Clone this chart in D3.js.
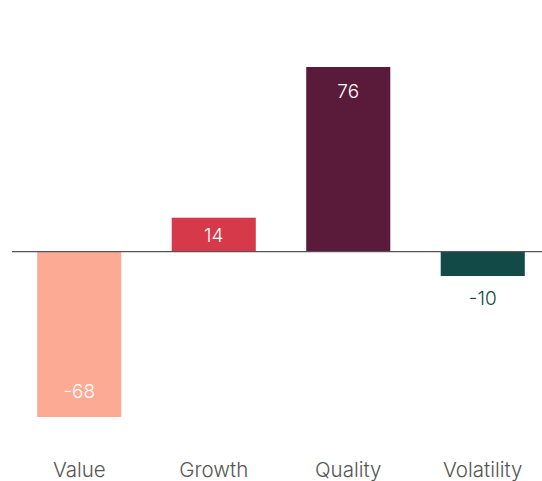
<!DOCTYPE html>
<html><head><meta charset="utf-8">
<script src="https://cdn.jsdelivr.net/npm/d3@7"></script>
<style>body{margin:0;background:#fff}svg{display:block}</style>
</head><body>
<script>
const categories = ["Value", "Growth", "Quality", "Volatility"];
const values = [-68, 14, 76, -10];
const colors = ["#FCAA94", "#D63A4A", "#5A1A3A", "#124A48"];

const W = 542, H = 481;
const svg = d3.select("body").append("svg").attr("width", W).attr("height", H);
const font = "Inter, 'Noto Sans', sans-serif";

const x = d3.scaleBand().domain(categories).range([12, 550]).paddingInner(0.375).paddingOuter(0.1875);
const y = d3.scaleLinear().domain([-68, 76]).range([417, 67]);

const data = categories.map((c, i) => ({c, v: values[i], color: colors[i]}));

svg.selectAll("rect.bar").data(data).enter().append("rect")
  .attr("class", "bar")
  .attr("x", d => x(d.c))
  .attr("width", x.bandwidth())
  .attr("y", d => Math.min(y(d.v), y(0)))
  .attr("height", d => Math.abs(y(d.v) - y(0)))
  .attr("fill", d => d.color);

svg.append("line")
  .attr("x1", 12).attr("x2", W)
  .attr("y1", y(0)).attr("y2", y(0))
  .attr("stroke", "#555").attr("stroke-width", 1.2);

svg.selectAll("text.val").data(data).enter().append("text")
  .attr("class", "val")
  .attr("x", d => x(d.c) + x.bandwidth() / 2)
  .attr("y", d => {
    const h = Math.abs(y(d.v) - y(0));
    if (h < 30) return d.v < 0 ? y(d.v) + 29 : y(d.v) - 8;
    return d.v >= 0 ? (h < 40 ? y(d.v) + 24 : y(d.v) + 31) : y(d.v) - 19;
  })
  .attr("text-anchor", "middle")
  .attr("font-family", font)
  .attr("font-weight", 300)
  .attr("font-size", 19)
  .attr("fill", d => Math.abs(y(d.v) - y(0)) < 30 ? d.color : "#fff")
  .text(d => d.v);

const xAxis = svg.append("g").attr("transform", `translate(0,${y(0)})`)
  .call(d3.axisBottom(x).tickSize(0).tickPadding(211));
xAxis.select(".domain").remove();
xAxis.selectAll("text")
  .attr("font-family", font)
  .attr("font-weight", 300)
  .attr("font-size", 20.5)
  .attr("fill", "#555");
</script>
</body></html>
